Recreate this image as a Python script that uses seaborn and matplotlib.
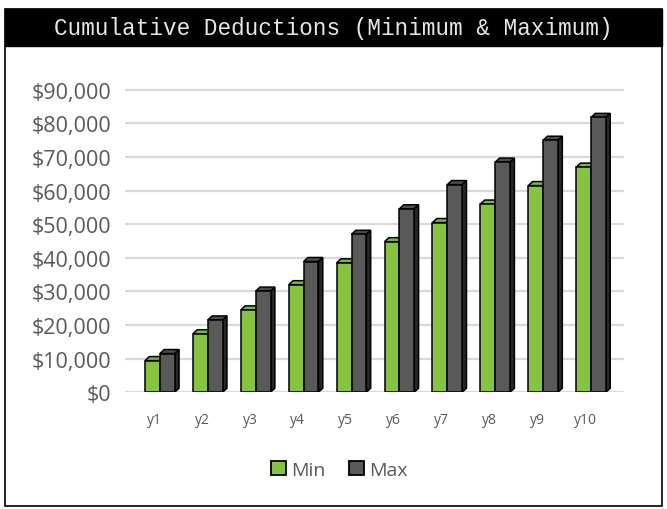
import pandas as pd
import matplotlib.pyplot as plt
import seaborn as sns
from matplotlib.patches import Polygon, Rectangle
from matplotlib.ticker import FuncFormatter

# Data
years = ["y1", "y2", "y3", "y4", "y5", "y6", "y7", "y8", "y9", "y10"]
min_values = [9400, 17400, 24500, 32000, 38500, 44800, 50500, 56000, 61500, 67000]
max_values = [11500, 21500, 30100, 38900, 47000, 54600, 61800, 68500, 75000, 81800]
series_names = ["Min", "Max"]
series_colors = ["#86c440", "#595959"]
side_colors = ["#4f7a22", "#262626"]
top_colors = ["#7ab83a", "#4d4d4d"]

df = pd.DataFrame(
    {
        "year": years * 2,
        "value": min_values + max_values,
        "series": [series_names[0]] * len(years) + [series_names[1]] * len(years),
    }
)

sns.set_theme(style="white")
plt.rcParams["font.family"] = ["Open Sans", "DejaVu Sans"]

fig = plt.figure(figsize=(6.67, 5.1), dpi=100)
ax = fig.add_axes([0.188, 0.229, 0.747, 0.606])

sns.barplot(
    data=df,
    x="year",
    y="value",
    hue="series",
    palette=series_colors,
    saturation=1,
    width=0.62,
    edgecolor="black",
    linewidth=1.1,
    ax=ax,
)

# fake 3D: top and side faces built from each drawn bar
dx = 0.09
dy = 1200
for i, cont in enumerate(ax.containers):
    for rect in cont:
        rect.set_zorder(3 + i * 2)
        rect.set_x(rect.get_x() + 0.12)
        x0, y0 = rect.get_x(), rect.get_y()
        x1, y1 = x0 + rect.get_width(), y0 + rect.get_height()
        top = Polygon(
            [(x0, y1), (x0 + dx, y1 + dy), (x1 + dx, y1 + dy), (x1, y1)],
            closed=True, facecolor=top_colors[i], edgecolor="black",
            linewidth=1.1, zorder=2 + i * 2,
        )
        side = Polygon(
            [(x1, y0), (x1 + dx, y0 + dy), (x1 + dx, y1 + dy), (x1, y1)],
            closed=True, facecolor=side_colors[i], edgecolor="black",
            linewidth=1.1, zorder=2 + i * 2,
        )
        ax.add_patch(top)
        ax.add_patch(side)

ax.set_xlim(-0.6, 9.8)
ax.set_ylim(0, 92000)
ax.set_yticks(range(0, 90001, 10000))
ax.yaxis.set_major_formatter(FuncFormatter(lambda v, p: f"${v:,.0f}"))
ax.grid(axis="y", color="#d9d9d9", linewidth=1.6)
ax.set_axisbelow(True)
for s in ax.spines.values():
    s.set_visible(False)
ax.set_xlabel("")
ax.set_ylabel("")
ax.tick_params(axis="y", labelsize=15.5, labelcolor="#595959", length=0, pad=10)
ax.tick_params(axis="x", labelsize=10, labelcolor="#595959", length=0, pad=14)

handles, labels = ax.get_legend_handles_labels()
for h in handles:
    h.set_edgecolor("black")
    h.set_linewidth(1.3)
ax.legend(
    handles, labels, loc="upper center", bbox_to_anchor=(0.43, -0.165),
    ncol=2, frameon=False, fontsize=14, handlelength=0.75, handleheight=0.75,
    handletextpad=0.3, columnspacing=1.2, labelcolor="#595959",
)

# outer border and title banner
fig.patches.append(Rectangle((5 / 667, 3 / 510), 657 / 667, 497 / 510,
                             transform=fig.transFigure, fill=False,
                             edgecolor="black", linewidth=1.2))
fig.patches.append(Rectangle((5 / 667, 463 / 510), 657 / 667, 37 / 510,
                             transform=fig.transFigure, facecolor="black",
                             edgecolor="black"))
fig.text(0.5, 1 - 28 / 510, "Cumulative Deductions (Minimum & Maximum)",
         ha="center", va="center", color="#e6e6e6", fontsize=16.3,
         family="Liberation Mono")

fig.savefig("out.png", dpi=100)
